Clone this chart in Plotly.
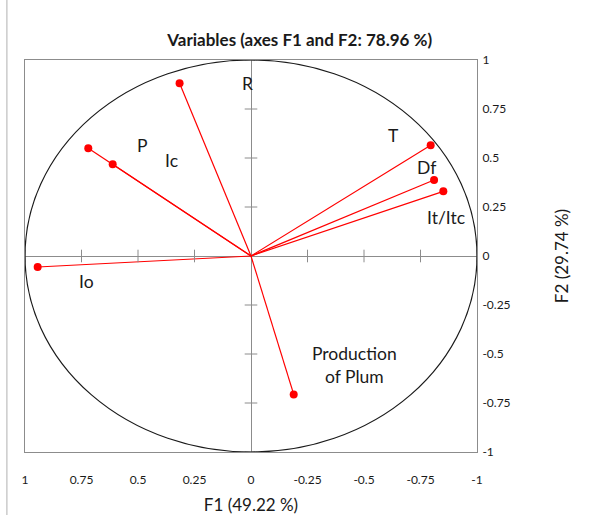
import plotly.graph_objects as go

# ---- data ----
variables = ["Io", "P", "Ic", "R", "T", "Df", "It/Itc", "Production<br>of Plum"]
f1 = [0.944, 0.72, 0.612, 0.316, -0.795, -0.81, -0.851, -0.189]
f2 = [-0.056, 0.55, 0.468, 0.881, 0.565, 0.388, 0.33, -0.706]
tick_vals = [1, 0.75, 0.5, 0.25, 0, -0.25, -0.5, -0.75, -1]
tick_text = ["1", "0.75", "0.5", "0.25", "0", "-0.25", "-0.5", "-0.75", "-1"]

# label offsets in pixels (styling)
label_shift = [(49, -15), (54, 3), (59, 4), (68, 0), (-37, 10), (-8, 12), (3, -26), (61, 29)]

FONT = "Lato"
RED = "#ff0000"
GRAY = "#8c8c8c"

fig = go.Figure()

# unit circle
fig.add_shape(type="circle", xref="x", yref="y", x0=-1, y0=-1, x1=1, y1=1,
              line=dict(color="#1a1a1a", width=1.2), layer="above")

# vectors from origin
lx, ly = [], []
for x, y in zip(f1, f2):
    lx += [0, x, None]
    ly += [0, y, None]
fig.add_trace(go.Scatter(x=lx, y=ly, mode="lines", line=dict(color=RED, width=1.2),
                         hoverinfo="skip", showlegend=False))

# axis tick crosses on zero lines
inner = [v for v in tick_vals if v != 0]
fig.add_trace(go.Scatter(x=inner, y=[0] * len(inner), mode="markers",
                         marker=dict(symbol="line-ns", size=9, line=dict(width=1, color=GRAY)),
                         hoverinfo="skip", showlegend=False))
fig.add_trace(go.Scatter(x=[0] * len(inner), y=inner, mode="markers",
                         marker=dict(symbol="line-ew", size=9, line=dict(width=1, color=GRAY)),
                         hoverinfo="skip", showlegend=False))

# end points
fig.add_trace(go.Scatter(x=f1, y=f2, mode="markers", text=variables,
                         marker=dict(color=RED, size=8), showlegend=False))

for name, x, y, (dx, dy) in zip(variables, f1, f2, label_shift):
    fig.add_annotation(x=x, y=y, text=name, showarrow=False, xshift=dx, yshift=dy,
                       font=dict(family=FONT, size=17.5, color="#1a1a1a"))

# outer chart border (left edge)
fig.add_shape(type="line", xref="paper", yref="paper", x0=-0.04, x1=-0.04, y0=-0.161, y1=1.153,
              line=dict(color="#b0b0b0", width=1))

fig.update_layout(
    width=590, height=515,
    margin=dict(l=25, r=113, t=60, b=63, autoexpand=False),
    paper_bgcolor="white", plot_bgcolor="white",
    font=dict(family=FONT, color="#1a1a1a"),
    title=dict(text="<b>Variables (axes F1 and F2: 78.96 %)</b>", x=0.508, xref="container",
               xanchor="center", y=0.922, yref="container", yanchor="middle",
               font=dict(family=FONT, size=17, color="#1a1a1a")),
    xaxis=dict(range=[1, -1], tickvals=tick_vals, ticktext=tick_text, showgrid=False,
               automargin=False,
               zeroline=True, zerolinecolor=GRAY, zerolinewidth=1,
               showline=True, mirror=True, linecolor=GRAY, linewidth=1,
               ticks="outside", ticklen=17, tickcolor="rgba(0,0,0,0)",
               tickfont=dict(family=FONT, size=12),
               title=dict(text="F1 (49.22 %)", font=dict(family=FONT, size=17), standoff=12)),
    yaxis=dict(range=[-1, 1], tickvals=tick_vals, ticktext=tick_text, side="right",
               automargin=False,
               showgrid=False, zeroline=True, zerolinecolor=GRAY, zerolinewidth=1,
               showline=True, mirror=True, linecolor=GRAY, linewidth=1,
               ticks="outside", ticklen=2, tickcolor="rgba(0,0,0,0)",
               tickfont=dict(family=FONT, size=12),
               title=dict(text="F2 (29.74 %)", font=dict(family=FONT, size=17), standoff=46)),
)

fig.write_html("out.html", config={"displayModeBar": False},
               post_script="document.body.style.margin='0';")
